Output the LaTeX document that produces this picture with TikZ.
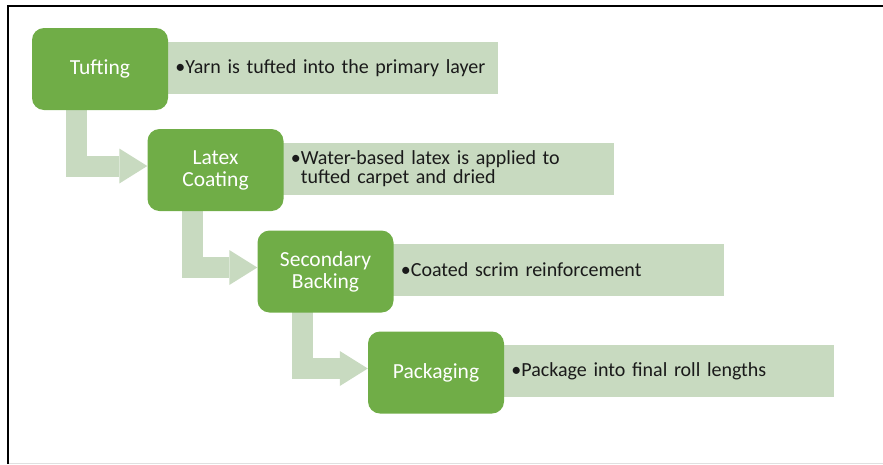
\documentclass[tikz,border=0pt]{standalone}
\usepackage{fontspec}
\setmainfont{Carlito}
\usetikzlibrary{arrows.meta,calc}
\pgfdeclarelayer{bg}
\pgfsetlayers{bg,main}
\definecolor{stepgreen}{RGB}{112,173,71}
\definecolor{lightgreen}{RGB}{200,218,192}
\definecolor{textdark}{RGB}{26,26,26}
\begin{document}
\begin{tikzpicture}[x=1pt,y=-1pt,
  stepbox/.style={fill=stepgreen, rounded corners=12pt, minimum width=136pt,
    minimum height=82pt, text=white, align=center, inner sep=0pt,
    font=\fontsize{21.5}{22}\selectfont},
  infobox/.style={fill=lightgreen, minimum height=52pt, inner xsep=10pt,
    inner ysep=0pt, anchor=west, align=left, text width=313pt, text=textdark,
    font=\fontsize{20}{19}\selectfont},
  flow/.style={draw=lightgreen, line width=21pt, line join=miter,
    -{Triangle[length=28pt,width=35pt,line width=0pt]}},
  frameline/.style={draw=black, line width=2pt}
]
\useasboundingbox (0,0) rectangle (883,464);
% frame of the screenshot
\draw[frameline] (8.3,464) -- (8.3,6) -- (883,6);
\draw[draw=black!12, line width=1pt] (9.3,463) -- (883,463);

% step boxes
\node[stepbox] (tuft)   at (100,69)      {Tufting};
\node[stepbox] (latex)  at (215.5,170)   {Latex\\Coating};
\node[stepbox] (second) at (325.5,271.5) {Secondary\\Backing};
\node[stepbox] (pack)   at (436,372.5)   {Packaging};

\begin{pgfonlayer}{bg}
  % description boxes
  \node[infobox] (tuftinfo)   at ($(tuft.east)+(-3,-1)$)     {•Yarn is tufted into the primary layer};
  \node[infobox] (latexinfo)  at ($(latex.east)+(-3,-1.5)$)  {•Water-based latex is applied to\\\phantom{•}tufted carpet and dried};
  \node[infobox] (secondinfo) at ($(second.east)+(-3,-1.5)$) {•Coated scrim reinforcement};
  \node[infobox] (packinfo)   at ($(pack.east)+(-3,-1.5)$)   {•Package into final roll lengths};
  % bent arrows
  \draw[flow] ($(tuft.south west)+(45,-6)$)   |- ($(latex.west)+(0,-4)$);
  \draw[flow] ($(latex.south west)+(45,-6)$)  |- ($(second.west)+(0,-4)$);
  \draw[flow] ($(second.south west)+(45,-6)$) |- ($(pack.west)+(0,-4)$);
\end{pgfonlayer}
\end{tikzpicture}
\end{document}
